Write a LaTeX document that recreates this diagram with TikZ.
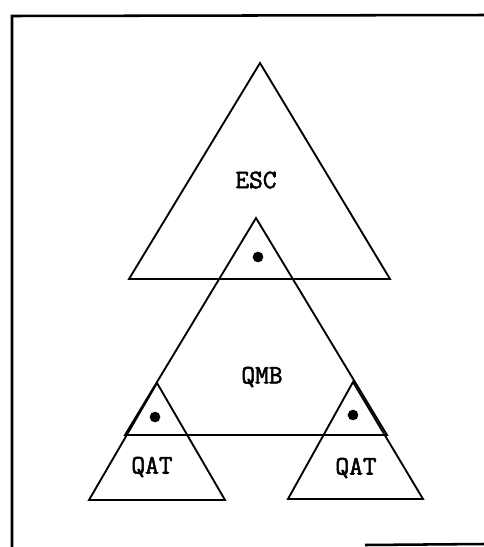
\documentclass[tikz,border=0pt]{standalone}
\usepackage{fontspec}
\newfontfamily\codefont[AutoFakeBold=2]{Latin Modern Mono}
\usetikzlibrary{positioning}
\tikzset{
  tri/.style={draw=black,line width=1.4pt,line join=miter},
  boxline/.style={draw=black,line width=1.9pt},
  lbl/.style={font=\codefont\bfseries\fontsize{20}{22}\selectfont,inner sep=0pt},
  blob/.style={fill=black,circle,inner sep=0pt,minimum size=8pt}
}

\begin{document}
\begin{tikzpicture}[x=0.75pt,y=-0.75pt]
  \useasboundingbox (0,0) rectangle (484,547);

  % page frame (right and most of bottom edge cut off)
  \draw[boxline] (12,547) -- (12,16) -- (484,15);
  \draw[boxline] (365,545) -- (484,544);

  % corner points of the triangles
  \coordinate (escTop) at (260,63);
  \coordinate (escL) at (129,279);
  \coordinate (escR) at (390,279);
  \coordinate (qmbTop) at (256,218);
  \coordinate (qmbL) at (125,435);
  \coordinate (qmbR) at (387,435);
  \coordinate (qatATop) at (157,383);
  \coordinate (qatAL) at (89,500);
  \coordinate (qatAR) at (225,500);
  \coordinate (qatBTop) at (353,382);
  \coordinate (qatBL) at (288,499);
  \coordinate (qatBR) at (423,499);

  \draw[tri] (escTop) -- (escR) -- (escL) -- cycle;
  \draw[tri] (qmbTop) -- (qmbR) -- (qmbL) -- cycle;
  \draw[tri] (qatATop) -- (qatAR) -- (qatAL) -- cycle;
  \draw[tri] (qatBTop) -- (qatBR) -- (qatBL) -- cycle;

  \node[lbl] (esc) at (256,180) {ESC};
  \node[lbl] (qmb) at (262,377) {QMB};
  \node[lbl] (qatA) at (152,467) {QAT};
  \node[lbl] (qatB) at (356,468) {QAT};

  \node[blob] (dotTop) at (258,257) {};
  \node[blob] (dotA) at (155,417) {};
  \node[blob] (dotB) at (353,415) {};
\end{tikzpicture}
\end{document}
